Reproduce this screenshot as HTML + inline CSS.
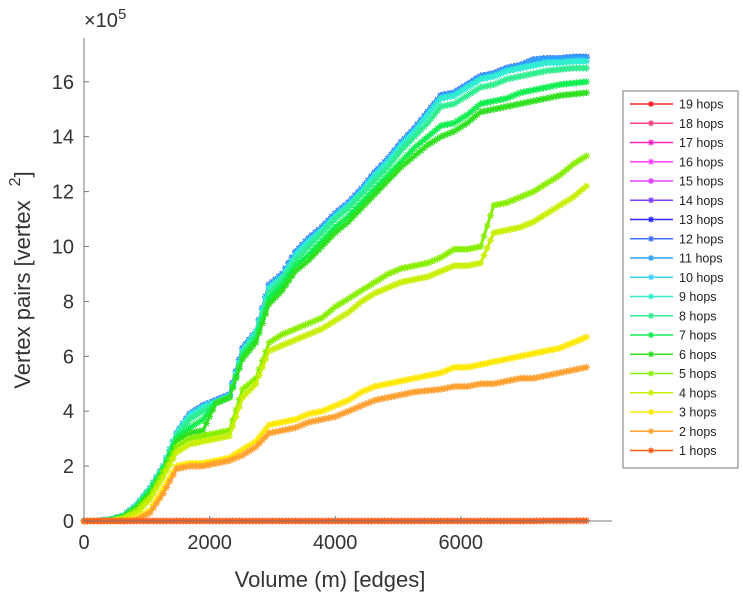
<!DOCTYPE html>
<html><head><meta charset="utf-8"><style>
body{margin:0;background:#fff;font-family:"Liberation Sans",sans-serif}
svg{display:block}
</style></head><body>
<svg id="chart" width="743" height="600" xmlns="http://www.w3.org/2000/svg">
<g id="plot"></g>
<g id="axes"></g>
<g id="legend"></g>
</svg>
<script>
const xs = [0,211,421,632,842,1053,1263,1474,1684,1895,2105,2316,2526,2737,2947,3158,3368,3579,3789,4000,4211,4421,4632,4842,5053,5263,5474,5684,5895,6105,6316,6526,6737,6947,7158,7368,7579,7789,8000];
const s1 = [0,0,0,0,0,0,0,0,0,0,0,0,0,0,0,0,0,0,0,0,0,0,0,0,0,0,0,0,0,0,0,0,0,0,0,0.01,0.01,0.01,0.01];
const s2 = [0,0,0,0,0.05,0.3,1.0,1.9,2.0,2.0,2.1,2.2,2.4,2.7,3.2,3.3,3.4,3.6,3.7,3.8,4.0,4.2,4.4,4.5,4.6,4.7,4.75,4.8,4.9,4.9,5.0,5.0,5.1,5.2,5.2,5.3,5.4,5.5,5.6];
const s3 = [0,0,0,0,0.1,0.4,1.2,2.0,2.1,2.1,2.2,2.3,2.6,2.9,3.5,3.6,3.7,3.9,4.0,4.2,4.4,4.7,4.9,5.0,5.1,5.2,5.3,5.4,5.6,5.6,5.7,5.8,5.9,6.0,6.1,6.2,6.3,6.5,6.7];
const s4 = [0,0,0,0.1,0.3,0.8,1.6,2.5,2.8,2.9,3.0,3.1,4.5,5.0,6.2,6.4,6.6,6.8,7.0,7.3,7.6,8.0,8.3,8.5,8.7,8.8,8.9,9.1,9.3,9.3,9.4,10.5,10.6,10.7,10.9,11.2,11.5,11.8,12.2];
const s5 = [0,0,0,0.1,0.4,0.9,1.8,2.7,3.0,3.1,3.2,3.3,4.8,5.2,6.5,6.8,7.0,7.2,7.4,7.8,8.1,8.4,8.7,9.0,9.2,9.3,9.4,9.6,9.9,9.9,10.0,11.5,11.6,11.8,12.0,12.3,12.6,13.0,13.3];
const s6 = [0,0,0.03,0.15,0.5,1.0,1.8,2.9,3.2,3.3,4.3,4.5,5.9,6.5,7.9,8.4,9.1,9.5,10.0,10.5,10.9,11.4,11.9,12.4,12.9,13.3,13.7,14.0,14.2,14.5,14.9,15.0,15.1,15.2,15.3,15.4,15.5,15.55,15.6];
const s7 = [0,0,0.03,0.15,0.5,1.1,1.9,3.0,3.4,3.7,4.3,4.5,6.0,6.6,8.1,8.6,9.3,9.7,10.2,10.7,11.1,11.6,12.1,12.6,13.1,13.6,14.0,14.4,14.5,14.8,15.2,15.3,15.4,15.6,15.7,15.8,15.9,15.95,16.0];
const s8 = [0,0,0.04,0.18,0.55,1.15,1.95,3.1,3.7,4.0,4.3,4.5,6.1,6.8,8.3,8.8,9.5,10.0,10.5,11.0,11.4,11.9,12.4,12.9,13.5,14.0,14.5,15.1,15.2,15.5,15.8,15.9,16.1,16.2,16.3,16.4,16.45,16.5,16.5];
const s9 = [0,0,0.05,0.2,0.6,1.2,2.0,3.2,3.85,4.15,4.35,4.55,6.2,6.9,8.5,8.9,9.7,10.2,10.6,11.1,11.5,12.0,12.6,13.1,13.7,14.2,14.8,15.4,15.5,15.8,16.1,16.2,16.4,16.5,16.6,16.7,16.7,16.75,16.75];
const s13 = [0,0,0.05,0.2,0.6,1.2,2.0,3.2,3.9,4.2,4.4,4.6,6.3,6.9,8.6,9.0,9.8,10.3,10.7,11.2,11.6,12.1,12.7,13.2,13.8,14.3,14.9,15.5,15.6,15.9,16.2,16.3,16.5,16.6,16.8,16.85,16.85,16.9,16.9];
const seriesNames = ["1 hops","2 hops","3 hops","4 hops","5 hops","6 hops","7 hops","8 hops","9 hops","10 hops","11 hops","12 hops","13 hops","14 hops","15 hops","16 hops","17 hops","18 hops","19 hops"];
const seriesData = [s1,s2,s3,s4,s5,s6,s7,s8,s9,s9,s13,s13,s13,s13,s13,s13,s13,s13,s13];
const colors = ["#ff6020","#ffa030","#ffe800","#c8ee00","#88ee00","#30e020","#10ee50","#30ee90","#30eed0","#40d0ff","#30a0ff","#4070ff","#2828ff","#8040ff","#e040ff","#ff40ff","#ff20c0","#ff4080","#ff2020"];
const xTicks = [0,2000,4000,6000];
const yTicks = [0,2,4,6,8,10,12,14,16];

const NS="http://www.w3.org/2000/svg";
const X0=84,Y0=521,XPX=62.8/1000,YPX=27.45;
function sx(v){return X0+v*XPX;}
function sy(v){return Y0-v*YPX;}
function mk(tag,attrs,parent){const e=document.createElementNS(NS,tag);for(const k in attrs)e.setAttribute(k,attrs[k]);parent.appendChild(e);return e;}
function star(g,x,y,c,r){
  r=r||3.5;const q=r*0.72;
  mk("path",{d:`M${x-r},${y}H${x+r}M${x},${y-r}V${y+r}M${x-q},${y-q}L${x+q},${y+q}M${x-q},${y+q}L${x+q},${y-q}`,stroke:c,"stroke-width":1.2,fill:"none"},g);
}
const plot=document.getElementById("plot");
for(let i=seriesData.length-1;i>=0;i--){
  const g=mk("g",{},plot);
  
  
  const d=seriesData[i];
  const pts=xs.map((x,j)=>sx(x).toFixed(1)+","+sy(d[j]).toFixed(1)).join(" ");
  mk("polyline",{points:pts,fill:"none",stroke:colors[i],"stroke-width":3},g);
  for(let j=0;j<xs.length;j++){
    star(g,sx(xs[j]),sy(d[j]),colors[i]);
    if(j<xs.length-1){
      for(const f of [0.25,0.5,0.75]){
        star(g,sx(xs[j]+(xs[j+1]-xs[j])*f),sy(d[j]+(d[j+1]-d[j])*f),colors[i]);
      }
    }
  }
}
const axes=document.getElementById("axes");
let l=mk("line",{x1:X0,y1:Y0,x2:612,y2:Y0,stroke:"#777","stroke-width":1},axes);

l=mk("line",{x1:X0,y1:Y0,x2:X0,y2:38,stroke:"#777","stroke-width":1},axes);

xTicks.forEach(v=>{
  mk("line",{x1:sx(v),y1:Y0,x2:sx(v),y2:Y0-5,stroke:"#777"},axes);
  const t=mk("text",{x:sx(v),y:Y0+28,"text-anchor":"middle","font-size":20,fill:"#333"},axes);
  t.textContent=v;
  
  
});
yTicks.forEach(v=>{
  mk("line",{x1:X0,y1:sy(v),x2:X0+5,y2:sy(v),stroke:"#777"},axes);
  const t=mk("text",{x:X0-10,y:sy(v)+7,"text-anchor":"end","font-size":20,fill:"#333"},axes);
  t.textContent=v;
  
  
});
let t=mk("text",{x:84,y:27,"font-size":20,fill:"#333"},axes);
t.innerHTML='×10<tspan dy="-8" font-size="15">5</tspan>';

t=mk("text",{x:330,y:587,"text-anchor":"middle","font-size":22,fill:"#333"},axes);
t.textContent="Volume (m) [edges]";

t=mk("text",{transform:"translate(30,280) rotate(-90)","text-anchor":"middle","font-size":22,fill:"#333"},axes);
t.innerHTML='Vertex pairs [vertex <tspan dx="8" dy="-10" font-size="16">2</tspan><tspan dy="10">]</tspan>';


const leg=document.getElementById("legend");
mk("rect",{x:623,y:91,width:115,height:377,fill:"#fff",stroke:"#777","stroke-width":1},leg);
for(let k=0;k<19;k++){
  const i=18-k;
  const y=104+k*19.25;
  const g=mk("g",{},leg);
  
  
  mk("line",{x1:630,y1:y,x2:673,y2:y,stroke:colors[i],"stroke-width":1.5},g);
  star(g,651,y,colors[i],3);
  const tt=mk("text",{x:679,y:y+4.5,"font-size":12.5,fill:"#222"},g);
  tt.textContent=seriesNames[i];
}
</script>
</body></html>
